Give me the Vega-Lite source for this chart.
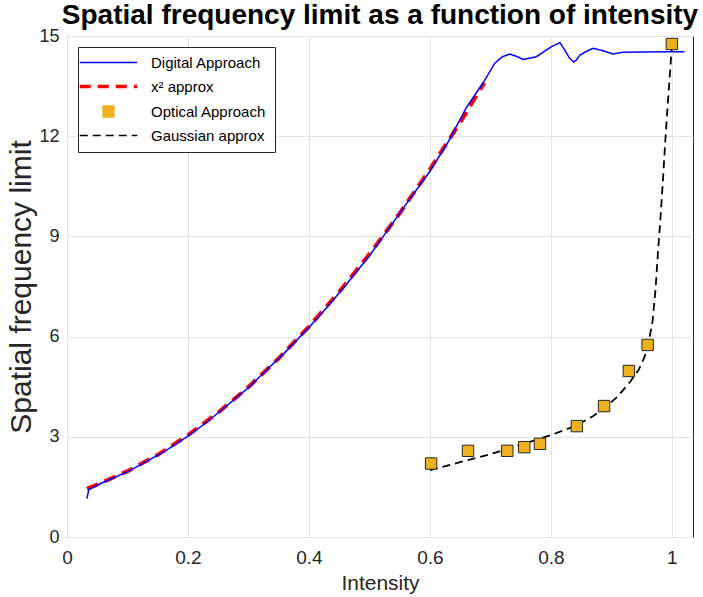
{
  "$schema": "https://vega.github.io/schema/vega-lite/v6.json",
  "width": 626,
  "height": 501,
  "autosize": {"type": "none"},
  "padding": {"left": 67, "top": 36, "right": 10, "bottom": 60},
  "title": {"text": "Spatial frequency limit as a function of intensity", "font": "Liberation Sans", "fontSize": 28, "fontWeight": "bold", "color": "#000000", "anchor": "middle", "offset": -3},
  "config": {
    "view": {"stroke": "#262626", "strokeWidth": 1},
    "axis": {"labelFont": "Liberation Sans", "titleFont": "Liberation Sans", "labelColor": "#262626", "titleColor": "#262626", "titleFontWeight": "normal", "gridColor": "#e3e3e3", "domain": false, "tickColor": "#262626", "labelFlush": false}
  },
  "datasets": {
    "pts": [
      {"s": "Digital Approach", "x": 0.033, "y": 1.15},
      {"s": "Digital Approach", "x": 0.036, "y": 1.42},
      {"s": "Digital Approach", "x": 0.05, "y": 1.55},
      {"s": "Digital Approach", "x": 0.07, "y": 1.72},
      {"s": "Digital Approach", "x": 0.1, "y": 1.95},
      {"s": "Digital Approach", "x": 0.13, "y": 2.25},
      {"s": "Digital Approach", "x": 0.16, "y": 2.55},
      {"s": "Digital Approach", "x": 0.2, "y": 3.02},
      {"s": "Digital Approach", "x": 0.23, "y": 3.42},
      {"s": "Digital Approach", "x": 0.26, "y": 3.87},
      {"s": "Digital Approach", "x": 0.3, "y": 4.47},
      {"s": "Digital Approach", "x": 0.33, "y": 5.0},
      {"s": "Digital Approach", "x": 0.36, "y": 5.52},
      {"s": "Digital Approach", "x": 0.4, "y": 6.27},
      {"s": "Digital Approach", "x": 0.43, "y": 6.88},
      {"s": "Digital Approach", "x": 0.46, "y": 7.52},
      {"s": "Digital Approach", "x": 0.5, "y": 8.42},
      {"s": "Digital Approach", "x": 0.53, "y": 9.18},
      {"s": "Digital Approach", "x": 0.56, "y": 9.95},
      {"s": "Digital Approach", "x": 0.6, "y": 10.95},
      {"s": "Digital Approach", "x": 0.63, "y": 11.82},
      {"s": "Digital Approach", "x": 0.66, "y": 12.85},
      {"s": "Digital Approach", "x": 0.688, "y": 13.6},
      {"s": "Digital Approach", "x": 0.707, "y": 14.18},
      {"s": "Digital Approach", "x": 0.72, "y": 14.38},
      {"s": "Digital Approach", "x": 0.732, "y": 14.46},
      {"s": "Digital Approach", "x": 0.745, "y": 14.38},
      {"s": "Digital Approach", "x": 0.754, "y": 14.3},
      {"s": "Digital Approach", "x": 0.776, "y": 14.38},
      {"s": "Digital Approach", "x": 0.801, "y": 14.68},
      {"s": "Digital Approach", "x": 0.815, "y": 14.8},
      {"s": "Digital Approach", "x": 0.823, "y": 14.58},
      {"s": "Digital Approach", "x": 0.831, "y": 14.33},
      {"s": "Digital Approach", "x": 0.838, "y": 14.22},
      {"s": "Digital Approach", "x": 0.842, "y": 14.28},
      {"s": "Digital Approach", "x": 0.848, "y": 14.43},
      {"s": "Digital Approach", "x": 0.86, "y": 14.55},
      {"s": "Digital Approach", "x": 0.87, "y": 14.63},
      {"s": "Digital Approach", "x": 0.886, "y": 14.56},
      {"s": "Digital Approach", "x": 0.903, "y": 14.46},
      {"s": "Digital Approach", "x": 0.919, "y": 14.51},
      {"s": "Digital Approach", "x": 0.95, "y": 14.52},
      {"s": "Digital Approach", "x": 0.997, "y": 14.53},
      {"s": "Digital Approach", "x": 1.021, "y": 14.53},
      {"s": "x² approx", "x": 0.033, "y": 1.45},
      {"s": "x² approx", "x": 0.05, "y": 1.57},
      {"s": "x² approx", "x": 0.1, "y": 1.97},
      {"s": "x² approx", "x": 0.15, "y": 2.46},
      {"s": "x² approx", "x": 0.2, "y": 3.05},
      {"s": "x² approx", "x": 0.25, "y": 3.73},
      {"s": "x² approx", "x": 0.3, "y": 4.49},
      {"s": "x² approx", "x": 0.35, "y": 5.35},
      {"s": "x² approx", "x": 0.4, "y": 6.3},
      {"s": "x² approx", "x": 0.45, "y": 7.34},
      {"s": "x² approx", "x": 0.5, "y": 8.47},
      {"s": "x² approx", "x": 0.55, "y": 9.69},
      {"s": "x² approx", "x": 0.6, "y": 11.01},
      {"s": "x² approx", "x": 0.65, "y": 12.41},
      {"s": "x² approx", "x": 0.69, "y": 13.6},
      {"s": "Gaussian approx", "x": 0.6, "y": 2.0},
      {"s": "Gaussian approx", "x": 0.65, "y": 2.24},
      {"s": "Gaussian approx", "x": 0.7, "y": 2.48},
      {"s": "Gaussian approx", "x": 0.75, "y": 2.76},
      {"s": "Gaussian approx", "x": 0.8, "y": 3.05},
      {"s": "Gaussian approx", "x": 0.84, "y": 3.32},
      {"s": "Gaussian approx", "x": 0.87, "y": 3.62},
      {"s": "Gaussian approx", "x": 0.89, "y": 3.88},
      {"s": "Gaussian approx", "x": 0.91, "y": 4.2},
      {"s": "Gaussian approx", "x": 0.93, "y": 4.62},
      {"s": "Gaussian approx", "x": 0.945, "y": 5.0},
      {"s": "Gaussian approx", "x": 0.955, "y": 5.4},
      {"s": "Gaussian approx", "x": 0.962, "y": 5.85},
      {"s": "Gaussian approx", "x": 0.968, "y": 6.45},
      {"s": "Gaussian approx", "x": 0.973, "y": 7.4},
      {"s": "Gaussian approx", "x": 0.977, "y": 8.5},
      {"s": "Gaussian approx", "x": 0.981, "y": 9.5},
      {"s": "Gaussian approx", "x": 0.985, "y": 10.6},
      {"s": "Gaussian approx", "x": 0.989, "y": 11.8},
      {"s": "Gaussian approx", "x": 0.993, "y": 12.9},
      {"s": "Gaussian approx", "x": 0.997, "y": 13.9},
      {"s": "Gaussian approx", "x": 1.0, "y": 14.7}
    ],
    "optical": [
      {"s": "Optical Approach", "x": 0.602, "y": 2.2},
      {"s": "Optical Approach", "x": 0.663, "y": 2.58},
      {"s": "Optical Approach", "x": 0.728, "y": 2.58},
      {"s": "Optical Approach", "x": 0.756, "y": 2.69},
      {"s": "Optical Approach", "x": 0.782, "y": 2.79},
      {"s": "Optical Approach", "x": 0.843, "y": 3.32},
      {"s": "Optical Approach", "x": 0.888, "y": 3.92},
      {"s": "Optical Approach", "x": 0.929, "y": 4.97},
      {"s": "Optical Approach", "x": 0.96, "y": 5.75},
      {"s": "Optical Approach", "x": 1.0, "y": 14.76}
    ]
  },
  "encoding": {
    "x": {"field": "x", "type": "quantitative", "scale": {"domain": [0, 1.035], "nice": false, "zero": false},
      "axis": {"title": "Intensity", "values": [0, 0.2, 0.4, 0.6, 0.8, 1], "format": "~g", "labelFontSize": 19, "titleFontSize": 21, "labelPadding": 11, "titlePadding": 5, "tickSize": 0}},
    "y": {"field": "y", "type": "quantitative", "scale": {"domain": [0, 15], "nice": false},
      "axis": {"title": "Spatial frequency limit", "values": [0, 3, 6, 9, 12, 15], "labelFontSize": 18, "titleFontSize": 30, "labelPadding": 8, "titlePadding": 2, "tickSize": 0}}
  },
  "layer": [
    {
      "data": {"name": "pts"},
      "transform": [{"filter": "datum.s === 'x² approx'"}],
      "mark": {"type": "line", "strokeWidth": 4, "strokeDash": [12, 7], "clip": true},
      "encoding": {
        "color": {"field": "s", "type": "nominal",
          "scale": {"domain": ["Digital Approach", "x² approx", "Optical Approach", "Gaussian approx"], "range": ["#0000ff", "#ff0000", "#EDB120", "#000000"]},
          "legend": {
            "title": null, "orient": "top-left", "offset": 11, "padding": 8,
            "strokeColor": "#262626", "fillColor": "#ffffff",
            "labelFont": "Liberation Sans", "labelFontSize": 15, "labelColor": "#000000",
            "symbolSize": 3300, "rowPadding": 8, "labelOffset": 35, "symbolOffset": 15,
            "encode": {"symbols": {"update": {
              "shape": {"signal": "datum.value === 'Optical Approach' ? 'square' : 'stroke'"},
              "size": {"signal": "datum.value === 'Optical Approach' ? 120 : 3300"},
              "fill": {"signal": "datum.value === 'Optical Approach' ? '#EDB120' : 'transparent'"},
              "fillOpacity": {"value": 1},
              "stroke": {"signal": "datum.value === 'Digital Approach' ? '#0000ff' : datum.value === 'x² approx' ? '#ff0000' : '#1a1a1a'"},
              "strokeOpacity": {"value": 1},
              "strokeWidth": {"signal": "datum.value === 'x² approx' ? 3.5 : datum.value === 'Optical Approach' ? 1.3 : 1.6"},
              "strokeDash": {"signal": "datum.value === 'x² approx' ? [11, 7] : datum.value === 'Gaussian approx' ? [8, 5] : [1, 0]"},
              "opacity": {"value": 1}
            }}}
          }}
      }
    },
    {
      "data": {"name": "pts"},
      "transform": [{"filter": "datum.s === 'Digital Approach'"}],
      "mark": {"type": "line", "strokeWidth": 1.5, "clip": true},
      "encoding": {"color": {"field": "s", "type": "nominal"}}
    },
    {
      "data": {"name": "pts"},
      "transform": [{"filter": "datum.s === 'Gaussian approx'"}],
      "mark": {"type": "line", "strokeWidth": 1.8, "strokeDash": [8, 5], "clip": true},
      "encoding": {"color": {"field": "s", "type": "nominal"}}
    },
    {
      "data": {"name": "optical"},
      "mark": {"type": "point", "shape": "square", "size": 130, "filled": true, "fill": "#EDB120", "stroke": "#262626", "strokeWidth": 1, "opacity": 1}
    }
  ]
}
